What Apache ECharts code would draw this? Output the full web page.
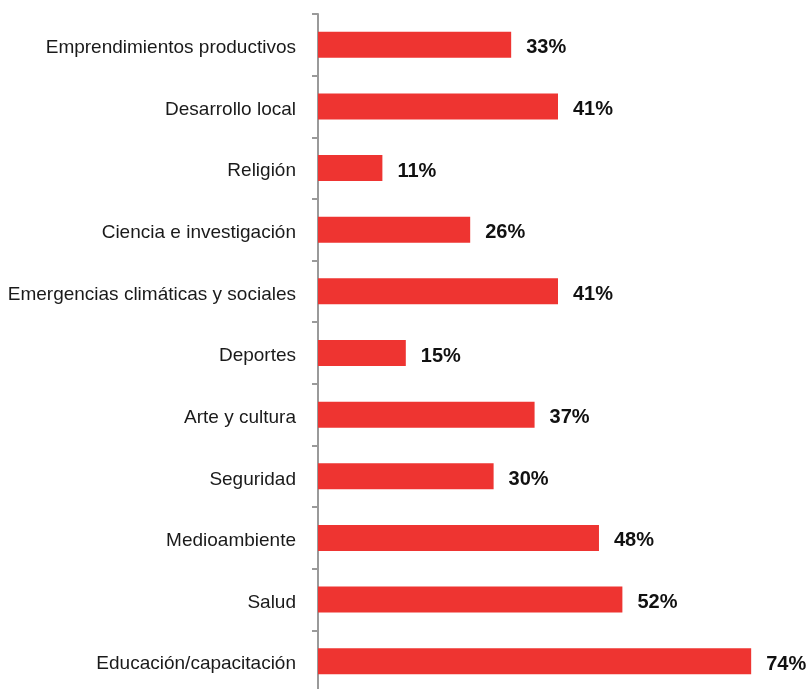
<!DOCTYPE html>
<html>
<head>
<meta charset="utf-8">
<script src="https://cdn.jsdelivr.net/npm/echarts@6/dist/echarts.min.js"></script>
<style>
  html, body { margin: 0; padding: 0; background: #ffffff; }
  #chart { width: 809px; height: 689px; }
</style>
</head>
<body>
<div id="chart"></div>
<script>
// Areas of activity, listed top to bottom
const categories = [
  'Emprendimientos productivos',
  'Desarrollo local',
  'Religión',
  'Ciencia e investigación',
  'Emergencias climáticas y sociales',
  'Deportes',
  'Arte y cultura',
  'Seguridad',
  'Medioambiente',
  'Salud',
  'Educación/capacitación'
];
// Share of respondents (%) for each area
const values = [33, 41, 11, 26, 41, 15, 37, 30, 48, 52, 74];

const FONT = '"Liberation Sans", Arial, sans-serif';

const chart = echarts.init(document.getElementById('chart'), null, { renderer: 'canvas' });
chart.setOption({
  animation: false,
  backgroundColor: '#ffffff',
  grid: {
    left: 318, top: 14, width: 480, height: 678,
    containLabel: false,
    outerBoundsMode: 'none'
  },
  xAxis: {
    type: 'value',
    min: 0,
    max: 82,
    show: false
  },
  yAxis: {
    type: 'category',
    inverse: true,
    data: categories,
    axisLine: { show: true, lineStyle: { color: '#9a9a9a', width: 2 } },
    axisTick: { show: true, length: 6, lineStyle: { color: '#9a9a9a', width: 2 } },
    axisLabel: {
      margin: 22,
      formatter: (name) => '{t|' + name + '}',
      rich: {
        t: {
          color: '#1a1a1a',
          fontFamily: FONT,
          fontSize: 19,
          padding: [6, 0, 0, 0]
        }
      }
    },
    splitLine: { show: false }
  },
  series: [{
    type: 'bar',
    data: values,
    barWidth: 26,
    itemStyle: { color: '#ee3431' },
    label: {
      show: true,
      position: 'right',
      distance: 15,
      offset: [0, 3],
      formatter: '{c}%',
      color: '#111111',
      fontFamily: FONT,
      fontWeight: 'bold',
      fontSize: 20
    }
  }]
});
</script>
</body>
</html>
